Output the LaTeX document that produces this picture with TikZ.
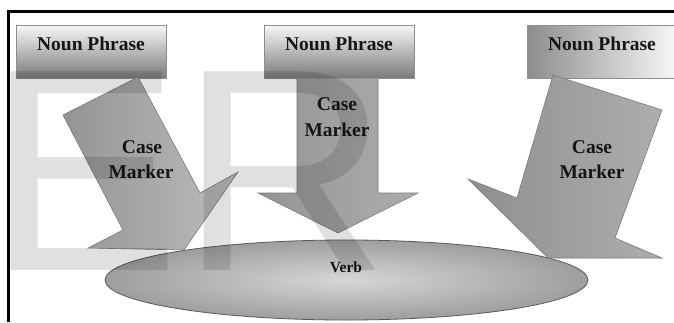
\documentclass[tikz,border=0pt]{standalone}
\usepackage{fontspec}
\setmainfont{Liberation Serif}
\newfontfamily\wmfont{Liberation Sans}
\usetikzlibrary{shapes.geometric,shadows}
\definecolor{boxedge}{HTML}{8E8E8E}
\definecolor{arredge}{HTML}{7A7A7A}
\definecolor{elledge}{HTML}{5A5A5A}
\definecolor{txt}{HTML}{151515}
\begin{document}
\begin{tikzpicture}[x=1pt,y=-1pt,
  npbox/.style={draw=boxedge, line width=0.6pt, minimum width=150pt, minimum height=53pt,
    inner sep=0pt, top color=white!97!black, middle color=white!84!black, bottom color=white!48!black,
    drop shadow={shadow xshift=1.2pt, shadow yshift=-1.2pt, opacity=0.25}},
  nptext/.style={font=\bfseries\fontsize{19.5}{23}\selectfont, text=txt, inner sep=0pt, anchor=base},
  cmtext/.style={font=\bfseries\fontsize{19.5}{23}\selectfont, text=txt, inner sep=0pt, anchor=base},
  blockarrow/.style={draw=arredge, line width=0.6pt, line join=miter},
]
\useasboundingbox (0,0) rectangle (674,322);
\fill[white] (0,0) rectangle (674,322);

% frame lines
\draw[line width=2.5pt, line join=miter] (8.7,322) -- (8.7,11.3) -- (674,11.3);

% verb ellipse
\node[ellipse, minimum width=483pt, minimum height=80pt, inner sep=0pt, draw=elledge, line width=0.8pt,
  inner color=white!84!black, outer color=white!62!black] (verb) at (346.5,280) {};
\node[font=\bfseries\fontsize{15.5}{18}\selectfont, text=txt, inner sep=0pt, anchor=base] (verbt) at (346,272) {Verb};

% noun phrase boxes
\node[npbox] (np1) at (91,51.5) {};
\node[npbox] (np2) at (339,51.5) {};
\node[npbox, left color=white!55!black, middle color=white!82!black, right color=white!97!black] (np3) at (602,51.5) {};
\node[nptext] (np1t) at (91,50) {Noun Phrase};
\node[nptext] (np2t) at (339,50) {Noun Phrase};
\node[nptext] (np3t) at (602,50) {Noun Phrase};

% block arrows
\path[blockarrow, left color=white!58!black, middle color=white!83!black, right color=white!74!black]
  (63,115) -- (138,77) -- (200,193) -- (238,172) -- (184,250) -- (88,248) -- (123,230) -- cycle;
\path[blockarrow, left color=white!58!black, middle color=white!87!black, right color=white!68!black]
  (297,78) -- (378,78) -- (378,193) -- (418,193) -- (338,233) -- (258,193) -- (297,193) -- cycle;
\path[blockarrow, left color=white!56!black, middle color=white!86!black, right color=white!68!black]
  (553,75) -- (662,110) -- (615,238) -- (662,258) -- (548,258) -- (468,179) -- (517,198) -- cycle;

% arrow labels
\node[cmtext] (c1a) at (142,153) {Case};
\node[cmtext] (c1b) at (141,178) {Marker};
\node[cmtext] (c2a) at (337,110) {Case};
\node[cmtext] (c2b) at (337,136) {Marker};
\node[cmtext] (c3a) at (592,153) {Case};
\node[cmtext] (c3b) at (592,178) {Marker};

% watermark
\node[anchor=base west, inner sep=0pt, text=black, text opacity=0.12,
  font=\wmfont\fontsize{289}{289}\selectfont] (wm) at (-12.8,270) {ER};
\end{tikzpicture}
\end{document}
